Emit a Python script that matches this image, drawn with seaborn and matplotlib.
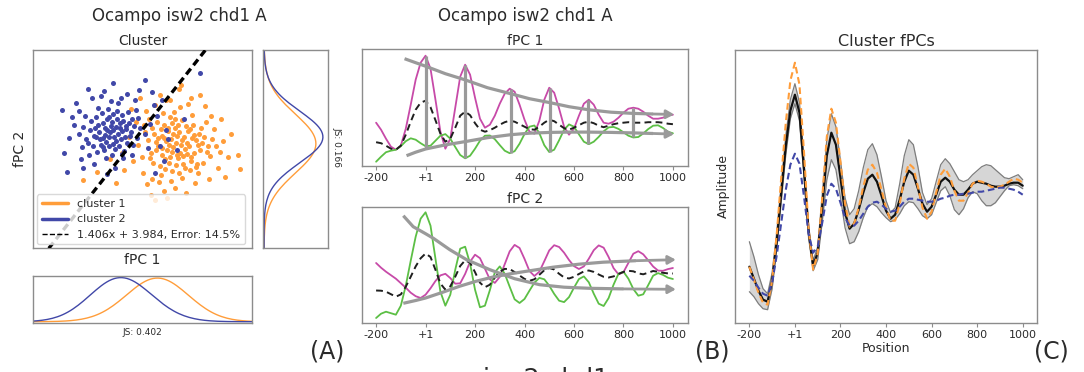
import numpy as np
import matplotlib
matplotlib.use("Agg")
import matplotlib.pyplot as plt
from matplotlib.lines import Line2D
import seaborn as sns

# ---------------- Panel A: fPC scores of the two clusters ----------------
cluster1_x = [3.1, 2.4, 3.8, 4.5, 2.0, 3.5, 1.6, 4.9, 2.7, 3.3,
              5.4, 1.2, 4.1, 2.9, 3.9, 1.8, 5.8, 2.2, 4.6, 0.9,
              3.0, 6.2, 1.5, 4.3, 2.5, 5.1, 0.6, 3.6, 6.6, 2.0,
              4.0, 1.1, 5.5, 2.8, 3.4, 0.3, 4.8, 7.0, 1.9, 3.7,
              5.9, 0.7, 2.3, 4.4, 6.8, 1.4, 3.2, 5.2, 2.6, 0.0,
              7.4, 4.2, 1.0, 3.5, 5.7, 2.1, 6.1, -0.4, 4.7, 3.0,
              7.8, 1.7, 4.0, 0.4, 6.4, 2.9, 5.0, -0.9, 7.2, 3.8,
              1.3, 8.1, 5.6, -1.3, 2.4, 4.6, 6.9, 0.1, 8.6, 3.3,
              -0.6, 5.3, 1.8, 7.6, 4.9, -2.0, 2.2, 9.6, 9.8, 8.9,
              -1.8, 0.5, 6.3, 3.7, 2.8, -3.2, -4.5, -5.9, -2.6, 0.9,
              1.3, 4.4, 6.7, 7.9, 8.3, 5.8, -1.1, -0.2, 3.9, 2.5,
              4.1, 2.7, 3.6, 5.0, 1.6, 4.3, 2.3, 3.1, 5.4, 1.9,
              4.8, 3.4, 6.0, 2.0, 0.8, 3.0, 4.5, 2.6, 5.6, 1.4,
              3.7, 4.9, 2.2, 3.3, 6.5, 0.2, 1.0, 5.2, 4.0, 2.8]
cluster1_y = [2.1, 2.8, 1.5, 2.6, 1.2, 3.4, 2.3, 1.0, 0.4, 4.2,
              2.9, 3.6, 0.3, 3.0, 2.4, 0.0, 1.8, 4.6, 3.9, 1.5,
              -0.5, 3.3, 4.9, 1.9, 1.8, 4.6, 2.9, 0.9, 2.2, 3.4,
              5.1, 0.4, 0.2, 5.5, 2.6, 3.8, -0.4, 3.0, -1.0, 3.8,
              4.3, 5.3, -0.3, 4.5, 1.1, 1.8, 6.0, 1.5, 3.9, 1.0,
              2.3, 3.2, 4.3, 1.3, 3.6, 5.9, 0.4, 2.4, 2.2, 4.8,
              1.6, -1.8, -1.3, 6.1, 4.9, -1.6, 5.7, 0.6, 4.1, 6.6,
              6.8, 2.8, -0.8, 3.2, 7.3, 6.9, 5.6, -0.7, 1.0, -2.4,
              4.9, -1.9, 7.9, -0.2, 7.6, 1.5, -2.8, 1.2, -0.3, 3.6,
              -0.4, -2.0, 6.7, 8.6, 7.4, 0.8, -0.6, -1.5, -1.9, -3.2,
              -3.8, -3.0, -1.4, 5.2, -1.2, 7.9, 6.3, 7.6, 9.0, -3.5,
              1.1, 2.4, 4.6, 3.1, 3.1, -0.2, 0.8, 3.6, -0.1, 4.1,
              4.1, 0.1, 2.6, 2.0, 0.9, 1.6, 1.4, 4.3, 2.4, 2.7,
              -0.8, 0.6, 3.1, 5.2, 1.6, 4.6, -1.4, 3.5, 2.9, 1.0]
cluster2_x = [-3.2, -2.6, -3.9, -2.1, -4.4, -3.5, -2.9, -1.6, -4.8, -3.0,
              -2.4, -3.7, -1.9, -4.1, -2.7, -5.2, -3.3, -1.2, -4.6, -2.2,
              -3.8, -0.8, -5.6, -2.9, -1.5, -4.3, -3.6, -2.0, -3.1, -4.9,
              -1.0, -2.5, -3.4, -5.9, -0.5, -1.8, -4.0, -2.8, -3.5, -2.3,
              -6.3, -4.5, -1.3, -0.2, -3.0, -5.1, -2.0, -3.9, -1.7, -4.2,
              -2.6, -3.3, -0.9, -5.4, -1.4, -2.2, -3.7, -4.7, -2.9, -1.1,
              0.3, -6.0, -3.6, -0.4, -4.4, -2.4, -5.7, -1.9, -3.1, 0.8,
              -6.8, -7.3, -2.7, -4.8, -7.8, -8.0, -6.6, -2.9, 0.3, -0.3,
              -1.5, -5.0, -3.8, 1.2, -0.7, 5.8, 1.8, -7.5, -5.9, -3.5,
              1.5, -4.1, 2.4, -6.3, -1.0, 0.6, -2.1, -7.0, 1.0, -5.4,
              -3.9, -2.5, -1.6, -4.6, -3.3, -2.0, -0.6, -5.3, 2.0, -6.1,
              2.6, 3.5, 2.2, 4.2, 1.3]
cluster2_y = [3.8, 4.4, 3.1, 3.0, 4.6, 5.2, 2.5, 4.1, 3.4, 4.9,
              3.6, 4.2, 5.0, 2.4, 1.9, 4.0, 3.2, 3.4, 5.5, 4.8,
              1.8, 4.5, 3.0, 5.8, 2.6, 3.8, 2.7, 3.9, 4.5, 2.2,
              5.3, 6.1, 6.4, 4.4, 3.1, 1.7, 5.9, 3.3, 4.0, 2.2,
              3.6, 1.6, 4.8, 4.2, 1.2, 5.0, 5.7, 4.8, 3.2, 3.0,
              2.8, 5.5, 2.4, 2.6, 6.0, 4.2, 3.5, 4.2, 4.0, 3.8,
              3.6, 2.1, 0.9, 5.4, 6.5, 7.0, 5.6, 0.9, 7.2, 4.7,
              4.6, 3.1, -0.2, 0.3, 1.5, 6.2, 7.0, 9.2, 9.6, 8.5,
              8.0, 7.6, 8.3, 6.8, 7.3, 10.4, 2.2, -0.6, -0.2, -0.9,
              5.6, 7.8, 4.0, 6.1, 1.3, 2.0, 7.6, 5.5, 8.2, 8.6,
              2.1, 5.2, 4.5, 3.3, 2.3, 1.4, 6.2, 1.3, 7.4, 0.8,
              3.0, 1.8, 0.6, 5.2, -0.8]
boundary_slope = 1.406
boundary_intercept = 3.984
boundary_error = 14.5
js_fpc1 = 0.402
js_fpc2 = 0.166

# ---------------- Panels B and C: profiles along position ----------------
position = [-200, -180, -160, -140, -120, -100, -80, -60, -40, -20,
            0, 20, 40, 60, 80, 100, 120, 140, 160, 180,
            200, 220, 240, 260, 280, 300, 320, 340, 360, 380,
            400, 420, 440, 460, 480, 500, 520, 540, 560, 580,
            600, 620, 640, 660, 680, 700, 720, 740, 760, 780,
            800, 820, 840, 860, 880, 900, 920, 940, 960, 980, 1000]
tick_positions = [-200, 0, 200, 400, 600, 800, 1000]
tick_labels = ["-200", "+1", "200", "400", "600", "800", "1000"]

# B, fPC 1: mean + fPC (magenta), mean - fPC (green), mean (dashed)
fpc1_plus = [43, 36, 27, 19, 16, 20, 37, 61, 86, 103, 110, 97, 66, 34, 17, 27, 58, 89, 101, 91,
             68, 47, 38, 41, 50, 62, 72, 77, 74, 61, 46, 34, 32, 45, 66, 78, 73, 57, 39, 31,
             37, 50, 62, 66, 61, 51, 43, 42, 44, 48, 53, 57, 58, 57, 54, 50, 47, 47, 48, 50, 51]
fpc1_minus = [4, 9, 13.5, 15, 16, 19.5, 24.5, 27.4, 26, 22.5, 19.5, 20, 25, 30, 31.6, 27, 18.7, 10.7, 7.4, 10,
              17, 25, 30, 30.2, 26.5, 20.6, 15, 12.5, 14.5, 22, 31.7, 39, 40.2, 32.5, 20.5, 13.7, 16, 25.5, 36, 41.3,
              39, 31.4, 24, 21.5, 24, 28.8, 34.4, 38.3, 38.8, 36.8, 33.4, 30, 28.2, 28.7, 32.2, 36.6, 40, 40.4, 37.7, 34, 32.4]
fpc1_mean = [23.5, 22.5, 20, 17, 16, 20, 31, 44, 56, 63, 65, 58.5, 45.5, 32, 24, 27, 38, 50, 54, 50.5,
             42.5, 36, 34, 35.5, 38, 41, 43.5, 45, 44, 41.5, 39, 36.5, 36, 39, 43, 46, 44.5, 41, 37.5, 36,
             38, 40.5, 43, 44, 42.5, 40, 38.5, 40, 41.5, 42.5, 43, 43.5, 43, 43, 43, 43.5, 43.5, 43.5, 43, 42, 41.5]
fpc1_upper_trend_pos = [-85, -40, 0, 80, 158, 250, 344, 420, 504, 580, 657, 750, 840, 920, 1005]
fpc1_upper_trend = [107, 103, 99.5, 92, 86, 78, 72, 67, 63, 59, 56, 53.5, 52.3, 51.7, 51.3]
fpc1_lower_trend_pos = [-77, -40, 0, 80, 158, 250, 344, 420, 504, 580, 657, 750, 840, 920, 1005]
fpc1_lower_trend = [10, 13.5, 16.7, 20.8, 24, 28, 31, 32.5, 33.3, 33.6, 33.6, 33.3, 32.8, 32.2, 31.6]
fpc1_span_pos = [0, 158, 344, 504, 657, 840]
fpc1_span_top = [110, 101, 77, 78, 66, 58]
fpc1_span_bottom = [17, 8, 12.5, 13.5, 22, 28.5]

# B, fPC 2
fpc2_plus = [59.7, 55, 51, 47.5, 44, 39.5, 35, 30, 26.5, 24.7, 28, 34.4, 41.7, 47.3, 48.9, 44.6, 39, 39.4, 48.8, 61,
             68, 64.5, 54, 43.4, 39.8, 45.8, 58.5, 71.3, 77.8, 74.7, 63.8, 51.7, 46.7, 51, 61.5, 72.3, 77.5, 75.7, 70, 62.7,
             56.6, 53.7, 56.3, 64, 72.5, 77.3, 75, 65.7, 54.6, 48.3, 50.5, 59.8, 69, 71.5, 68.4, 62.4, 56.2, 52.1, 51.9, 53.6, 54.7]
fpc2_minus = [4.7, 9, 11, 9.5, 8, 17, 37, 62, 86, 104, 110.4, 97, 64, 31, 17, 28, 53, 74, 76, 59,
              33, 15.4, 17, 32.6, 50.4, 56.3, 49, 36, 23.4, 19.7, 23.7, 32, 40, 44.8, 43.4, 37, 28.8, 22, 20.6, 25.6,
              35, 43.6, 46.3, 40.4, 29, 19, 16.7, 24.6, 38, 49, 51, 44, 33.7, 27, 28.4, 37.5, 47, 49.6, 47.8, 45, 43.7]
fpc2_mean = [32.2, 32.0, 31.0, 28.5, 26.0, 28.3, 36.0, 46.0, 56.3, 64.4, 69.2, 65.7, 52.9, 39.2, 33.0, 36.3, 46.0, 56.7, 62.4, 60.0,
             50.5, 40.0, 35.5, 38.0, 45.1, 51.0, 53.8, 53.7, 50.6, 47.2, 43.8, 41.9, 43.4, 47.9, 52.5, 54.7, 53.2, 48.9, 45.3, 44.2,
             45.9, 48.7, 51.3, 52.2, 50.8, 48.2, 45.9, 45.2, 46.3, 48.7, 50.8, 51.9, 51.4, 49.3, 48.4, 50.0, 51.7, 50.9, 49.9, 49.3, 49.2]
fpc2_decay_trend_pos = [-90, -50, 0, 31, 98, 166, 260, 360, 461, 560, 663, 800, 1012]
fpc2_decay_trend = [107, 96, 89, 84.5, 73, 63, 53, 44, 38, 35.5, 34.4, 33.8, 33.4]
fpc2_rise_trend_pos = [-90, -40, 0, 70, 137, 205, 273, 340, 407, 515, 620, 718, 850, 1012]
fpc2_rise_trend = [19.4, 22.2, 24.7, 30.5, 36.4, 41.5, 45.7, 48.8, 51.4, 55.5, 58.5, 60.5, 62, 63]

# C, cluster fPCs
all_fpc = [56, 44, 32, 23, 21, 42, 81, 130, 177, 212, 228, 210, 153, 91, 57, 70, 116, 167, 190, 178,
           145, 110, 94, 99, 113, 130, 144, 148, 141, 127, 112, 104, 108, 123, 141, 152, 148, 134, 119, 111,
           116, 128, 141, 145, 141, 133, 128, 128, 133, 139, 141, 140, 139, 137, 136, 136, 137, 139, 140, 140, 137]
all_fpc_upper = [81, 66, 48, 34, 29, 50, 90, 139, 187, 223, 239, 220, 162, 97, 62, 76, 128, 183, 209, 196,
                 162, 125, 108, 114, 132, 155, 173, 179, 168, 146, 122, 110, 115, 139, 167, 183, 178, 156, 130, 118,
                 124, 141, 158, 164, 159, 151, 143, 141, 143, 148, 152, 156, 158, 157, 153, 149, 145, 144, 146, 148, 143]
all_fpc_lower = [31, 26, 19, 14, 13, 34, 73, 121, 168, 204, 219, 202, 146, 85, 52, 63, 101, 143, 163, 153,
                 125, 95, 79, 81, 91, 105, 116, 119, 116, 110, 105, 101, 103, 109, 117, 121, 120, 114, 107, 104,
                 108, 120, 132, 136, 127, 113, 108, 114, 125, 131, 129, 122, 117, 117, 120, 126, 132, 137, 138, 137, 134]
cluster1_fpc = [56, 43, 30, 20, 18, 42, 88, 145, 200, 242, 260, 238, 170, 94, 53, 69, 125, 186, 214, 200,
                161, 119, 96, 99, 115, 136, 153, 158, 150, 133, 115, 102, 102, 119, 144, 159, 155, 136, 115, 104,
                111, 130, 148, 154, 146, 132, 122, 122, 130, 139, 142, 141, 139, 136, 135, 136, 138, 141, 144, 143, 140]
cluster2_fpc = [47, 42, 35, 29, 27, 40, 67, 100, 133, 158, 169, 159, 126, 89, 70, 76, 100, 127, 139, 134,
                120, 105, 97, 97, 102, 109, 116, 120, 121, 118, 114, 111, 112, 116, 121, 124, 124, 123, 122, 121,
                121, 122, 124, 125, 127, 128, 128, 129, 129, 130, 131, 131, 132, 133, 134, 135, 135, 134, 133, 131, 128]

# ---------------- style ----------------
ORANGE = "#ff9d3a"
BLUE = "#4148a8"
MAGENTA = "#c74aa8"
GREEN = "#5cbf45"
GRAY = "#9a9a9a"
TXT = "#2b2b2b"
SPINE = "#8c8c8c"

sns.set_style("white")
plt.rcParams["font.family"] = ["DejaVu Sans"]
plt.rcParams["axes.edgecolor"] = SPINE
plt.rcParams["axes.linewidth"] = 1.0
plt.rcParams["text.color"] = TXT
plt.rcParams["axes.labelcolor"] = TXT
plt.rcParams["axes.titlecolor"] = TXT

W, H = 1084, 372
fig = plt.figure(figsize=(W / 100, H / 100), dpi=100)


def box(x0, y0, x1, y1):
    return [x0 / W, 1 - y1 / H, (x1 - x0) / W, (y1 - y0) / H]


def clean(ax):
    ax.set_xticks([])
    ax.set_yticks([])
    ax.set_xlabel("")
    ax.set_ylabel("")
    for s in ax.spines.values():
        s.set_color(SPINE)
        s.set_linewidth(1.0)


# ---------------- Panel A ----------------
ax_sc = fig.add_axes(box(33.3, 50, 251.7, 248.3))
sns.scatterplot(x=cluster1_x, y=cluster1_y, ax=ax_sc, color=ORANGE, s=13, linewidth=0, zorder=2)
sns.scatterplot(x=cluster2_x, y=cluster2_y, ax=ax_sc, color=BLUE, s=13, linewidth=0, zorder=2)
ax_sc.axline((0, boundary_intercept), slope=boundary_slope, color="black", lw=2.4,
             dashes=(2.2, 1.3), zorder=3)
ax_sc.set_xlim(-10.87, 10.97)
ax_sc.set_ylim(-9.12, 12.91)
clean(ax_sc)
ax_sc.set_title("Cluster", fontsize=10, pad=3.6)
ax_sc.set_ylabel("fPC 2", fontsize=10, labelpad=4.5)
handles = [Line2D([], [], color=ORANGE, lw=2.5),
           Line2D([], [], color=BLUE, lw=2.5),
           Line2D([], [], color="black", lw=1.0, ls="--")]
labels = ["cluster 1", "cluster 2",
          f"{boundary_slope:.3f}x + {boundary_intercept:.3f}, Error: {boundary_error:.1f}%"]
leg = ax_sc.legend(handles, labels, loc="lower left", fontsize=8, frameon=True, framealpha=0.8,
                   borderaxespad=0.35, handlelength=2.4, handletextpad=0.8, edgecolor="#d0d0d0",
                   fancybox=True)
for t in leg.get_texts():
    t.set_color(TXT)

ax_right = fig.add_axes(box(263.3, 50, 328, 248.3))
sns.kdeplot(y=cluster1_y, ax=ax_right, color=ORANGE, bw_adjust=7, cut=8, lw=1.0)
sns.kdeplot(y=cluster2_y, ax=ax_right, color=BLUE, bw_adjust=7, cut=8, lw=1.0)
m = max(np.max(l.get_xdata()) for l in ax_right.lines)
ax_right.set_xlim(-0.012 * m, m / 0.92)
ax_right.set_ylim(-25.1, 26.9)
clean(ax_right)
fig.text(337 / W, 1 - 147 / H, f"JS: {js_fpc2:.3f}", rotation=270, ha="center", va="center",
         fontsize=6.5, color=TXT)

ax_bot = fig.add_axes(box(33.3, 276, 251.7, 322.7))
sns.kdeplot(x=cluster1_x, ax=ax_bot, color=ORANGE, bw_adjust=4.6, cut=8, lw=1.0)
sns.kdeplot(x=cluster2_x, ax=ax_bot, color=BLUE, bw_adjust=4.6, cut=8, lw=1.0)
m = max(np.max(l.get_ydata()) for l in ax_bot.lines)
ax_bot.set_ylim(-0.022 * m, m * 1.037)
ax_bot.set_xlim(-17.9, 19.6)
clean(ax_bot)
ax_bot.set_title("fPC 1", fontsize=10, pad=8.6)
ax_bot.set_xlabel(f"JS: {js_fpc1:.3f}", fontsize=6.5, labelpad=3.5)

fig.text(179.5 / W, 1 - 21 / H, "Ocampo isw2 chd1 A", ha="center", va="baseline", fontsize=12)
fig.text(327 / W, 1 - 352 / H, "(A)", ha="center", va="center", fontsize=17)


# ---------------- Panel B ----------------
def trend_arrow(ax, xs, ys):
    sns.lineplot(x=xs[:-1], y=ys[:-1], ax=ax, color=GRAY, lw=2.3, sort=False,
                 estimator=None, zorder=4, solid_capstyle="butt")
    ax.annotate("", xy=(xs[-1], ys[-1]), xytext=(xs[-2], ys[-2]), zorder=4,
                arrowprops=dict(arrowstyle="-|>,head_length=0.45,head_width=0.25", color=GRAY,
                                lw=2.0, shrinkA=0, shrinkB=0))


def profile_axes(ax, plus, minus, mean, title, ymax):
    sns.lineplot(x=position, y=plus, ax=ax, color=MAGENTA, lw=1.3, estimator=None)
    sns.lineplot(x=position, y=minus, ax=ax, color=GREEN, lw=1.3, estimator=None)
    sns.lineplot(x=position, y=mean, ax=ax, color="#1f1f1f", lw=1.4, estimator=None,
                 linestyle=(0, (3.5, 2.2)))
    ax.set_xlim(-257, 1061)
    ax.set_ylim(0, ymax)
    ax.set_yticks([])
    ax.set_xticks(tick_positions)
    ax.set_xticklabels(tick_labels)
    ax.tick_params(axis="x", bottom=True, length=3, width=0.8, color=SPINE,
                   labelsize=8, labelcolor=TXT, pad=2)
    ax.set_xlabel("")
    ax.set_ylabel("")
    ax.set_title(title, fontsize=10, pad=3)


ax_b1 = fig.add_axes(box(362, 49.3, 688, 165.7))
profile_axes(ax_b1, fpc1_plus, fpc1_minus, fpc1_mean, "fPC 1", 116.4)
ax_b1.vlines(fpc1_span_pos, fpc1_span_bottom, fpc1_span_top, color=GRAY, lw=2.3, zorder=4)
trend_arrow(ax_b1, fpc1_upper_trend_pos, fpc1_upper_trend)
trend_arrow(ax_b1, fpc1_lower_trend_pos, fpc1_lower_trend)

ax_b2 = fig.add_axes(box(362, 206.7, 688, 322.7))
profile_axes(ax_b2, fpc2_plus, fpc2_minus, fpc2_mean, "fPC 2", 116.0)
trend_arrow(ax_b2, fpc2_decay_trend_pos, fpc2_decay_trend)
trend_arrow(ax_b2, fpc2_rise_trend_pos, fpc2_rise_trend)

fig.text(525 / W, 1 - 21 / H, "Ocampo isw2 chd1 A", ha="center", va="baseline", fontsize=12)
fig.text(712 / W, 1 - 352 / H, "(B)", ha="center", va="center", fontsize=17)

# ---------------- Panel C ----------------
ax_c = fig.add_axes(box(735, 50, 1037.3, 322.7))
ax_c.fill_between(position, all_fpc_lower, all_fpc_upper, color="#d6d6d6", lw=0, zorder=1)
sns.lineplot(x=position, y=all_fpc_upper, ax=ax_c, color="#7d7d7d", lw=0.9, estimator=None, zorder=2)
sns.lineplot(x=position, y=all_fpc_lower, ax=ax_c, color="#7d7d7d", lw=0.9, estimator=None, zorder=2)
sns.lineplot(x=position, y=all_fpc, ax=ax_c, color="#111111", lw=1.6, estimator=None, zorder=3)
sns.lineplot(x=position, y=cluster1_fpc, ax=ax_c, color=ORANGE, lw=1.5, estimator=None, zorder=4,
             linestyle=(0, (3.2, 1.8)))
sns.lineplot(x=position, y=cluster2_fpc, ax=ax_c, color=BLUE, lw=1.5, estimator=None, zorder=4,
             linestyle=(0, (3.2, 1.8)))
ax_c.set_xlim(-263, 1064)
ax_c.set_ylim(0, 272.7)
ax_c.set_yticks([])
ax_c.set_xticks(tick_positions)
ax_c.set_xticklabels(tick_labels)
ax_c.tick_params(axis="x", bottom=True, length=3, width=0.8, color=SPINE,
                 labelsize=8, labelcolor=TXT, pad=2)
ax_c.set_title("Cluster fPCs", fontsize=11.5, pad=3)
ax_c.set_ylabel("Amplitude", fontsize=9, labelpad=4)
ax_c.set_xlabel("Position", fontsize=9, labelpad=2)
fig.text(1051 / W, 1 - 352 / H, "(C)", ha="center", va="center", fontsize=17)

# partially visible caption of the next row (cut by the lower edge, as in the source)
fig.text(546 / W, 1 - 386 / H, "isw2 chd1", ha="center", va="baseline", fontsize=18)

fig.savefig("out.png", dpi=100)
